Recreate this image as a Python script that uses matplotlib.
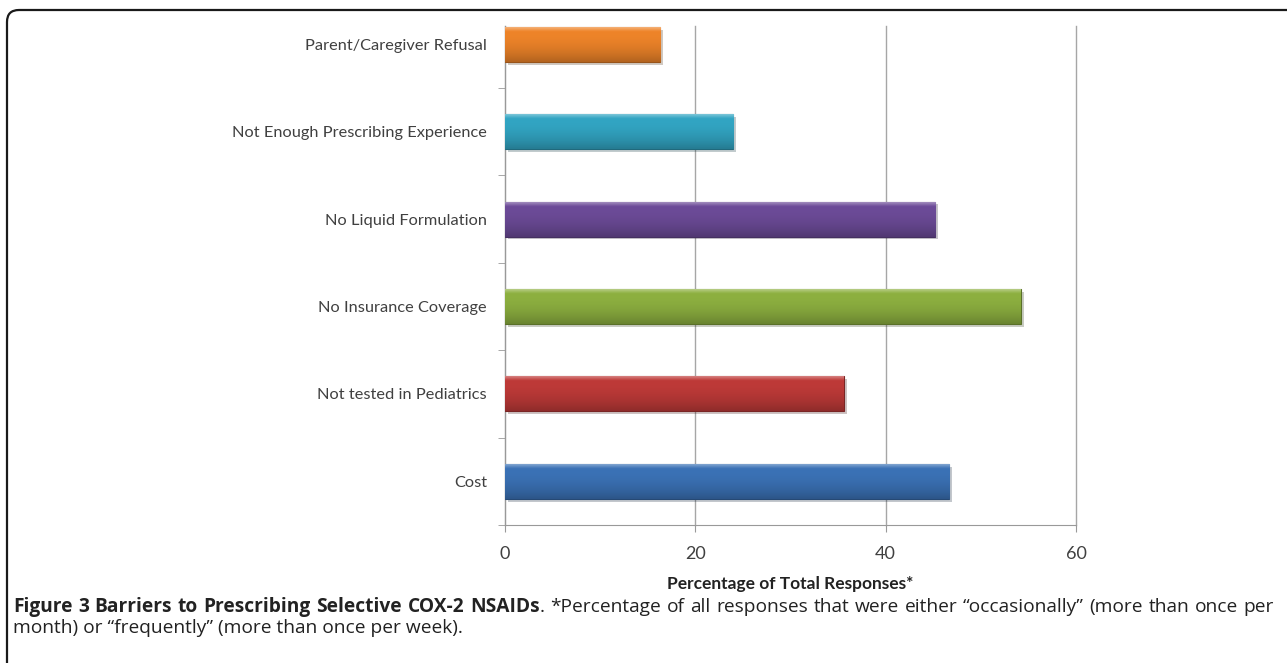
import numpy as np
import matplotlib.pyplot as plt
from matplotlib.path import Path
from matplotlib.patches import PathPatch
from matplotlib.colors import to_rgb
import matplotlib.patheffects as pe

# datos (de abajo hacia arriba)
categorias = ['Cost', 'Not tested in Pediatrics', 'No Insurance Coverage',
              'No Liquid Formulation', 'Not Enough Prescribing Experience',
              'Parent/Caregiver Refusal']
valores = [46.7, 35.6, 54.2, 45.2, 24.0, 16.3]
colores = ['#3B72B6', '#BE3A38', '#8DB040', '#6C4B98', '#32A5C3', '#EE8429']
xticks = [0, 20, 40, 60]

W, H = 1287, 663
fig = plt.figure(figsize=(W / 100, H / 100), dpi=100)
ax = fig.add_axes([505 / W, 1 - 525 / H, (1076 - 505) / W, (525 - 26) / H])

y = np.arange(len(categorias))
alto = 0.40
barras = ax.barh(y, valores, height=alto, color=colores, zorder=3,
                 path_effects=[pe.SimplePatchShadow(offset=(2, -2), alpha=0.25), pe.Normal()])

# degradado tipo bisel
for b, c in zip(barras, colores):
    base = np.array(to_rgb(c))
    claro = base + (1 - base) * 0.35
    oscuro = base * 0.75
    t = np.linspace(0, 1, 60)[:, None]
    grad = np.where(t < 0.12, claro + (base - claro) * (t / 0.12),
                    base + (oscuro - base) * ((t - 0.12) / 0.88) ** 2)
    img = ax.imshow(grad[:, None, :], aspect='auto', zorder=4,
                    extent=(b.get_x(), b.get_x() + b.get_width(),
                            b.get_y(), b.get_y() + b.get_height()),
                    origin='upper', interpolation='bilinear')
    img.set_clip_path(b)
    b.set_edgecolor(tuple(oscuro * 0.85))
    b.set_linewidth(0.8)

ax.set_xlim(0, 60)
ax.set_ylim(-0.5, 5.21)
ax.set_xticks(xticks)
ax.set_xticklabels([str(v) for v in xticks], fontsize=13, color='#404040', family='Lato')
ax.set_yticks(y)
ax.set_yticklabels(categorias, fontsize=11.8, color='#404040', family='Lato')
ax.set_yticks(np.arange(-0.5, 5, 1), minor=True)
ax.tick_params(axis='y', which='major', length=0, pad=13)
ax.tick_params(axis='y', which='minor', length=5, color='#999999')
ax.tick_params(axis='x', length=5, color='#999999', pad=10)
ax.grid(axis='x', color='#A6A6A6', linewidth=1, zorder=0)
for l in ax.get_xgridlines():
    l.set_clip_on(False)
ax.set_axisbelow(True)
for s in ['top', 'right']:
    ax.spines[s].set_visible(False)
for s in ['left', 'bottom']:
    ax.spines[s].set_color('#999999')
ax.set_xlabel('Percentage of Total Responses*', fontsize=12.5, fontweight='bold',
              family='Lato', color='#222222', labelpad=10)

# marco con esquina redondeada
def fx(px):
    return px / W

def fy(py):
    return 1 - py / H

r = 12
verts = [(fx(7), fy(H)), (fx(7), fy(10 + r)), (fx(7), fy(10)), (fx(7 + r), fy(10)), (fx(W + 5), fy(10))]
codes = [Path.MOVETO, Path.LINETO, Path.CURVE3, Path.CURVE3, Path.LINETO]
fig.patches.append(PathPatch(Path(verts, codes), transform=fig.transFigure,
                             fill=False, edgecolor='#1a1a1a', linewidth=1.6))

# leyenda de la figura, justificada
fuente = 'Open Sans'
linea1 = [('Figure', 'bold', False), ('3', 'bold', False), ('Barriers', 'bold', False),
          ('to', 'bold', False), ('Prescribing', 'bold', False), ('Selective', 'bold', False),
          ('COX-2', 'bold', False), ('NSAIDs', 'bold', False), ('.', 'normal', True)]
linea1 += [(w, 'normal', False) for w in
           '*Percentage of all responses that were either \u201coccasionally\u201d (more than once per'.split()]
linea2 = 'month) or \u201cfrequently\u201d (more than once per week).'

x0, x1 = 13, 1274
fig.canvas.draw()
rend = fig.canvas.get_renderer()

# tamaño que cabe en la línea con espacios normales
tam = 14.0
while True:
    sp = fig.text(0, 0, 'a a', fontsize=tam, family=fuente).get_window_extent(rend).width - \
        fig.text(0, 0, 'aa', fontsize=tam, family=fuente).get_window_extent(rend).width
    anchos = [fig.text(0, 0, w, fontsize=tam, fontweight=p, family=fuente).get_window_extent(rend).width
              for w, p, _ in linea1]
    for t in fig.texts[:]:
        t.remove()
    huecos = sum(1 for _, _, p in linea1[1:] if not p)
    if sum(anchos) + huecos * sp <= x1 - x0 or tam < 9:
        break
    tam -= 0.25

textos = []
for w, peso, pegado in linea1:
    t = fig.text(0, fy(612), w, fontsize=tam, fontweight=peso, family=fuente,
                 color='#222222', va='baseline', ha='left')
    textos.append((t, t.get_window_extent(rend).width, pegado))
total = sum(a for _, a, _ in textos)
esp = (x1 - x0 - total) / huecos
x = x0
for i, (t, a, p) in enumerate(textos):
    if i > 0 and not p:
        x += esp
    t.set_x(fx(x))
    x += a

fig.text(fx(x0), fy(633), linea2, fontsize=tam, family=fuente, color='#222222',
         va='baseline', ha='left')

fig.savefig('out.png', dpi=100)
